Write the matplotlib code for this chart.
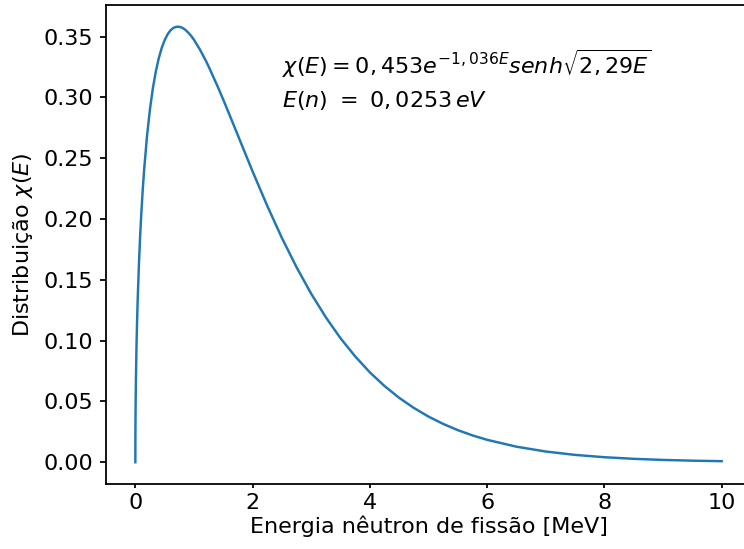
import matplotlib
matplotlib.use("Agg")
import matplotlib.pyplot as plt

# Energy [MeV] and fission spectrum values
energy = [0.0, 0.0005, 0.002, 0.005, 0.01, 0.02, 0.03, 0.04, 0.06, 0.08, 0.1,
          0.125, 0.15, 0.2, 0.25, 0.3, 0.35, 0.4, 0.45, 0.5, 0.55, 0.6, 0.65,
          0.7, 0.75, 0.8, 0.85, 0.9, 0.95, 1.0, 1.1, 1.2, 1.25, 1.4, 1.5, 1.6,
          1.75, 1.8, 2.0, 2.25, 2.5, 2.75, 3.0, 3.25, 3.5, 3.75, 4.0, 4.25,
          4.5, 4.75, 5.0, 5.25, 5.5, 5.75, 6.0, 6.5, 7.0, 7.5, 8.0, 8.5, 9.0,
          9.5, 10.0]
chi = [0.0, 0.0153, 0.0306, 0.0483, 0.0681, 0.0957, 0.1164, 0.1336, 0.1614,
       0.1840, 0.2030, 0.2232, 0.2405, 0.2687, 0.2905, 0.3078, 0.3215, 0.3323,
       0.3407, 0.3471, 0.3519, 0.3552, 0.3572, 0.3581, 0.3581, 0.3573, 0.3557,
       0.3534, 0.3507, 0.3474, 0.3395, 0.3304, 0.3254, 0.3094, 0.2981, 0.2864,
       0.2687, 0.2627, 0.2391, 0.2108, 0.1844, 0.1603, 0.1385, 0.1191, 0.1019,
       0.0870, 0.0739, 0.06264, 0.05295, 0.04464, 0.03754, 0.03151, 0.02638,
       0.02206, 0.01842, 0.01277, 0.00880, 0.00603, 0.00412, 0.00280, 0.00189,
       0.00128, 0.00086]

DPI = 160
fig = plt.figure(figsize=(744 / DPI, 549 / DPI), dpi=DPI)
# the original image is cropped on the right, so its right spine is not shown
ax = fig.add_axes([0.1425, 0.1184, 0.8669, 0.8725])
ax.spines['right'].set_visible(False)

ax.plot(energy, chi, linewidth=1.1)
ax.text(2.5, 0.3275, r'$\chi(E) = 0,453e^{-1,036E} senh \sqrt{2,29E}$',
        va='center')
ax.text(2.5, 0.2975, r'$E(n)\ =\ 0,0253\,eV$', va='center')

ax.tick_params(axis='x', length=2.0, pad=2.0)
ax.tick_params(axis='y', length=2.7, pad=3.0)
ax.set_xlabel("Energia nêutron de fissão [MeV]", labelpad=1.0)
ax.set_ylabel(r"Distribuição $\chi(E)$")

fig.savefig("out.png", dpi=DPI)
